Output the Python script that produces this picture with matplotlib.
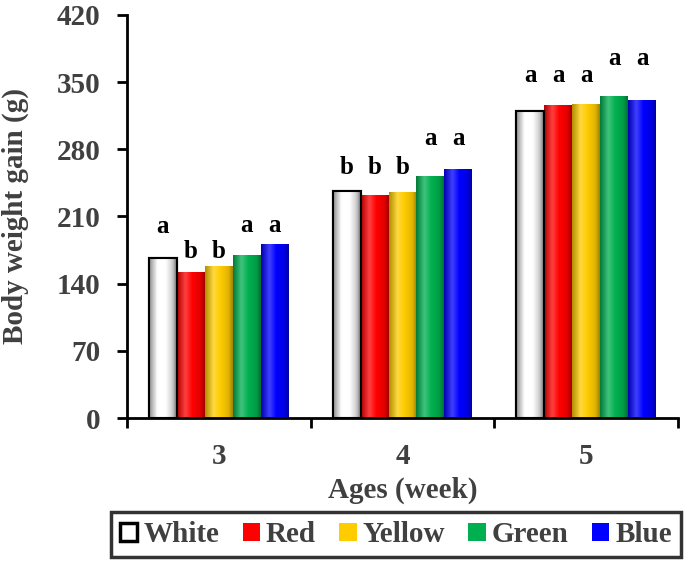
import numpy as np
import matplotlib
matplotlib.use("Agg")
import matplotlib.pyplot as plt
from matplotlib.colors import LinearSegmentedColormap, to_rgb
from matplotlib.patches import Rectangle

weeks = ["3", "4", "5"]
series = ["White", "Red", "Yellow", "Green", "Blue"]
values = {
    "White":  [167, 237, 320],
    "Red":    [152, 232, 326],
    "Yellow": [158, 236, 327],
    "Green":  [170, 252, 336],
    "Blue":   [181, 260, 331],
}
letters = {
    "White":  ["a", "b", "a"],
    "Red":    ["b", "b", "a"],
    "Yellow": ["b", "b", "a"],
    "Green":  ["a", "a", "a"],
    "Blue":   ["a", "a", "a"],
}
# heights of the significance letters (mean + invisible error), data units
letter_y = {
    "White":  [193, 254, 350],
    "Red":    [167, 254, 350],
    "Yellow": [167, 254, 350],
    "Green":  [194, 284, 368],
    "Blue":   [194, 284, 368],
}
colors = {"White": "#ffffff", "Red": "#ff0000", "Yellow": "#ffcc00",
          "Green": "#00b050", "Blue": "#0000ff"}
yticks = [0, 70, 140, 210, 280, 350, 420]

plt.rcParams["font.family"] = ["Liberation Serif", "DejaVu Serif"]
plt.rcParams["font.weight"] = "bold"
txt = "#404040"

fig = plt.figure(figsize=(6.85, 5.61), dpi=100)
ax = fig.add_axes([0.1854, 0.2549, 0.8044, 0.7184])

x = np.arange(len(weeks))
w = 0.152

def shade_cmap(c, white=False):
    base = np.array(to_rgb(c))
    if white:
        stops = [(0.0, (0.55, 0.55, 0.55)), (0.3, (1, 1, 1)), (0.6, (1, 1, 1)),
                 (0.85, (0.8, 0.8, 0.8)), (1.0, (0.45, 0.45, 0.45))]
    else:
        dark = base * 0.7
        light = base + (1 - base) * 0.25
        stops = [(0.0, tuple(dark)), (0.3, tuple(light)), (0.55, tuple(base)),
                 (0.85, tuple(base * 0.88)), (1.0, tuple(dark * 0.9))]
    return LinearSegmentedColormap.from_list("s", stops)

grad = np.linspace(0, 1, 64).reshape(1, -1)
for i, s in enumerate(series):
    pos = x + (i - 2) * w
    bars = ax.bar(pos, values[s], width=w, color=colors[s],
                  edgecolor="black" if s == "White" else "none",
                  linewidth=1.5 if s == "White" else 0, zorder=2)
    cm = shade_cmap(colors[s], white=(s == "White"))
    for b in bars:
        x0, wd, h = b.get_x(), b.get_width(), b.get_height()
        im = ax.imshow(grad, cmap=cm, aspect="auto", extent=[x0, x0 + wd, 0, h],
                       zorder=2.5, interpolation="bicubic")
        im.set_clip_path(b)
        if s == "White":
            ax.add_patch(Rectangle((x0, 0), wd, h, fill=False, edgecolor="black",
                                   linewidth=1.5, zorder=3))
    for xi, ly, lt in zip(pos, letter_y[s], letters[s]):
        ax.text(xi, ly, lt, ha="center", va="baseline", fontsize=18,
                fontweight="bold", color="black", zorder=4)

ax.set_xlim(-0.5, 2.5)
ax.set_ylim(0, 420)
ax.set_yticks(yticks)
ax.set_xticks(x)
ax.set_xticklabels(weeks)
ax.set_xticks([-0.5, 0.5, 1.5, 2.5], minor=True)
ax.tick_params(axis="x", which="major", length=0, pad=18, labelsize=21, labelcolor=txt)
ax.tick_params(axis="x", which="minor", length=7, width=2, direction="out")
ax.tick_params(axis="y", length=7, width=2, direction="out", pad=12,
               labelsize=21, labelcolor=txt)
for lab in ax.get_xticklabels() + ax.get_yticklabels():
    lab.set_fontweight("bold")
for sp in ["top", "right"]:
    ax.spines[sp].set_visible(False)
for sp in ["left", "bottom"]:
    ax.spines[sp].set_linewidth(2)

ax.set_ylabel("Body weight gain (g)", fontsize=21, fontweight="bold", color=txt,
              labelpad=20)
ax.set_xlabel("Ages (week)", fontsize=21, fontweight="bold", color=txt, labelpad=5)

handles = [Rectangle((0, 0), 1, 1, facecolor=colors[s],
                     edgecolor="black" if s == "White" else colors[s],
                     linewidth=2.5 if s == "White" else 0) for s in series]
leg = fig.legend(handles, series, loc="center", ncol=5,
                 bbox_to_anchor=(0.578, 0.047), frameon=True, fancybox=False,
                 handlelength=0.6, handleheight=0.6, handletextpad=0.2,
                 columnspacing=0.8, borderpad=0.3,
                 prop={"family": "Liberation Serif", "weight": "bold", "size": 21})
leg.get_frame().set_edgecolor("black")
leg.get_frame().set_linewidth(2.5)
for t in leg.get_texts():
    t.set_color(txt)

fig.savefig("out.png", dpi=100)
